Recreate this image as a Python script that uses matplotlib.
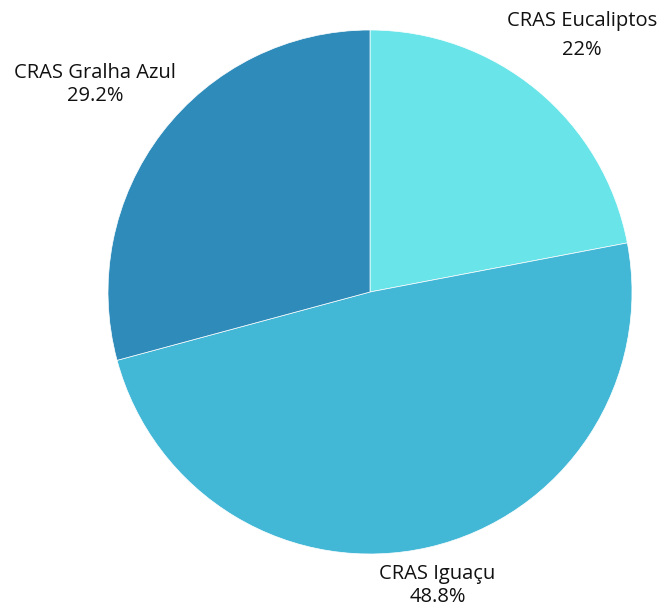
import matplotlib
matplotlib.use('Agg')
import matplotlib.pyplot as plt
import numpy as np

# Data
labels = ['CRAS Eucaliptos', 'CRAS Iguaçu', 'CRAS Gralha Azul']
values = [22.0, 48.8, 29.2]
pct_text = ['22%', '48.8%', '29.2%']
colors = ['#69E4E8', '#42B7D6', '#2E8BBA']
label_dist = [1.27, 1.15, 1.32]
line_sp = [1.6, 1.2, 1.2]

W, H = 661, 612
cx, cy, r = 370, 292, 262

fig = plt.figure(figsize=(W / 100, H / 100), dpi=100)
ax = fig.add_axes([0, 0, 1, 1])

wedges, _ = ax.pie(values, colors=colors, startangle=90, counterclock=False,
                   radius=1, wedgeprops=dict(edgecolor='white', linewidth=0.5))

# pie() resets the limits, so set them afterwards
ax.set_xlim(-cx / r, (W - cx) / r)
ax.set_ylim(-(H - cy) / r, cy / r)
ax.set_aspect('equal')
ax.axis('off')

for w, lab, pct, d, ls in zip(wedges, labels, pct_text, label_dist, line_sp):
    ang = np.deg2rad((w.theta1 + w.theta2) / 2)
    x, y = d * np.cos(ang), d * np.sin(ang)
    if lab == 'CRAS Gralha Azul':
        y -= 0.012
    ax.text(x, y, f'{lab}\n{pct}', ha='center', va='center', fontsize=14.5,
            family='Open Sans', color='#111111', linespacing=ls)

fig.savefig('out.png', dpi=100)
